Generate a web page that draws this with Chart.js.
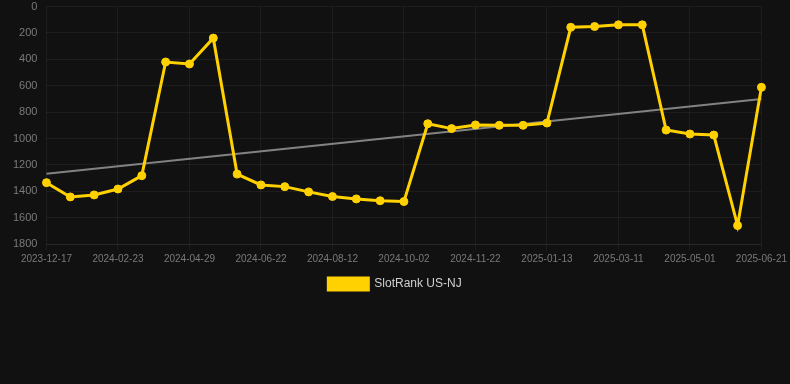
<!DOCTYPE html>
<html>
<head>
<meta charset="utf-8">
<script src="https://cdn.jsdelivr.net/npm/chart.js@4"></script>
<style>
html,body{margin:0;padding:0;background:#111111;overflow:hidden;}
#wrap{position:relative;width:790px;height:309px;margin-top:-9px;}
</style>
</head>
<body>
<div id="wrap"><canvas id="c"></canvas></div>
<script>
const categories = ["2023-12-17","2024-01-09","2024-02-01","2024-02-23","2024-03-17","2024-04-07","2024-04-29","2024-05-17","2024-06-04","2024-06-22","2024-07-09","2024-07-26","2024-08-12","2024-08-29","2024-09-15","2024-10-02","2024-10-19","2024-11-05","2024-11-22","2024-12-09","2024-12-26","2025-01-13","2025-02-01","2025-02-20","2025-03-11","2025-03-28","2025-04-14","2025-05-01","2025-05-18","2025-06-04","2025-06-21"];
const rankValues = [1335,1443,1428,1383,1282,420,435,239,1270,1352,1365,1405,1440,1458,1472,1478,888,925,897,900,900,883,157,151,138,138,936,966,974,1660,612];
const trendStart = 1268;
const trendEnd = 700;
const yTicks = [0,200,400,600,800,1000,1200,1400,1600,1800];

const trendData = categories.map((_, i) => i === 0 ? trendStart : (i === categories.length - 1 ? trendEnd : null));

new Chart(document.getElementById('c'), {
  type: 'line',
  data: {
    labels: categories,
    datasets: [
      {
        label: 'SlotRank US-NJ',
        data: rankValues,
        borderColor: '#FFD100',
        backgroundColor: '#FFD100',
        borderWidth: 3,
        pointRadius: 4,
        pointBorderWidth: 1,
        pointBackgroundColor: '#FFD100',
        pointBorderColor: '#FFD100',
        tension: 0,
        order: 1
      },
      {
        label: 'trend',
        data: trendData,
        borderColor: 'rgba(150,150,150,0.85)',
        borderWidth: 2,
        pointRadius: 0,
        spanGaps: true,
        order: 2
      }
    ]
  },
  options: {
    responsive: true,
    maintainAspectRatio: false,
    animation: false,
    layout: { padding: { left: 4, right: 4, top: 0, bottom: 0 } },
    plugins: {
      legend: {
        position: 'bottom',
        labels: {
          color: '#d0d0d0',
          font: { family: 'Liberation Sans, Arial, sans-serif', size: 12 },
          boxWidth: 40,
          boxHeight: 12,
          filter: (item) => item.text !== 'trend'
        }
      },
      tooltip: { enabled: false }
    },
    scales: {
      x: {
        offset: false,
        grid: { color: 'rgba(255,255,255,0.05)', drawTicks: true, tickLength: 6 },
        border: { color: 'rgba(255,255,255,0.05)' },
        ticks: {
          color: '#7a7a7a',
          font: { family: 'Liberation Sans, Arial, sans-serif', size: 10 },
          autoSkip: false,
          maxRotation: 0,
          callback: function(v, i) { return i % 3 === 0 ? categories[i] : null; }
        }
      },
      y: {
        reverse: true,
        min: yTicks[0],
        max: yTicks[yTicks.length - 1],
        afterBuildTicks: (axis) => { axis.ticks = yTicks.map(v => ({ value: v })); },
        grid: { color: 'rgba(255,255,255,0.05)', drawTicks: false },
        border: { display: false },
        ticks: {
          color: '#7a7a7a',
          padding: 9,
          font: { family: 'Liberation Sans, Arial, sans-serif', size: 11 },
          callback: (v) => String(v)
        }
      }
    }
  }
});
</script>
</body>
</html>
